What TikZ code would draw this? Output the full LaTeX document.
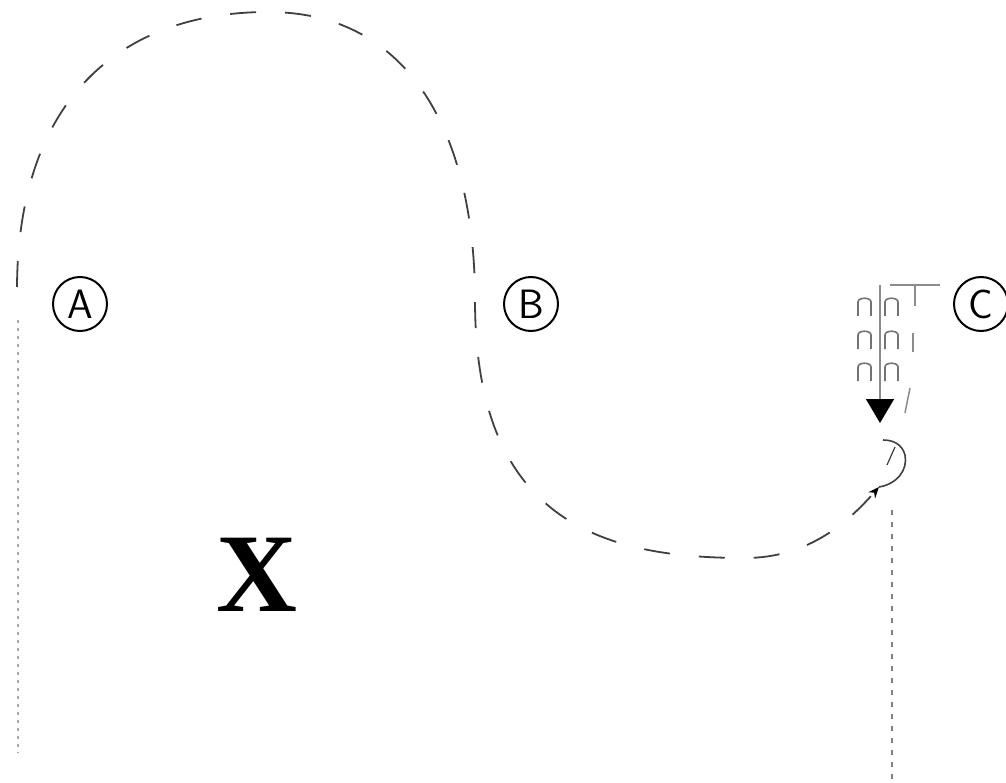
\documentclass[tikz,border=0pt]{standalone}
\usepackage{fontspec}
\usetikzlibrary{arrows.meta, positioning}
\newfontfamily\xfont{Liberation Serif}
\definecolor{routegray}{gray}{0.25}

\begin{document}
\begin{tikzpicture}[x=1pt, y=-1pt]
    \tikzstyle{letter}=[circle, draw=black, line width=2pt, minimum size=54pt, inner sep=0pt, font=\sffamily\fontsize{41}{41}\selectfont]
    \tikzstyle{route}=[draw=routegray, line width=1.8pt, dash pattern=on 26pt off 29pt, dash phase=52pt]
    \tikzstyle{curl}=[draw=routegray, line width=1.6pt]
    \tikzstyle{faint}=[draw=black!45, line width=1.5pt]
    \tikzstyle{arch}=[draw=black!55, line width=1.6pt]
    \tikzstyle{drop left}=[draw=black!35, line width=1.4pt, dash pattern=on 3pt off 5pt]
    \tikzstyle{drop right}=[draw=black!50, line width=1.8pt, dash pattern=on 5pt off 7pt]
    \useasboundingbox (0,0) rectangle (1006,783);

    % Draw the circled letters
    \node[letter] (A) at (80,304) {A};
    \node[letter] (B) at (531,304) {B};
    \node[letter] (C) at (981,304) {C};

    \node[font=\xfont\bfseries\fontsize{112}{112}\selectfont, inner sep=0pt] (X) at (257,575) {X};

    % Draw the dashed route
    \coordinate (start) at (17,290);
    \coordinate (top) at (268,12);
    \coordinate (turn) at (475,300);
    \coordinate (low) at (745,558);
    \coordinate (end) at (879,487);
    \draw[route, -{Stealth[length=11pt, width=9pt, black]}] (start) .. controls (17,100) and (120,12) .. (top)
        .. controls (420,12) and (475,150) .. (turn)
        .. controls (475,520) and (600,558) .. (low)
        .. controls (810,558) and (850,520) .. (end);

    % the small curl after the arrow
    \coordinate (curl end) at (883,440);
    \draw[curl] (end) .. controls (897,484) and (908,470) .. (905,455) .. controls (902,444) and (893,440) .. (curl end);
    \coordinate (tick a) at (895,447);
    \coordinate (tick b) at (887,465);
    \draw[curl, line width=1.2pt] (tick a) -- (tick b);

    % Draw the grey arrow next to C
    \coordinate (C-in) at (880,285);
    \coordinate (C-out) at (880,423);
    \draw[faint, -{Triangle[length=24pt, width=28pt, black]}] (C-in) -- (C-out);
    \coordinate (bar-l) at (890,285);
    \coordinate (bar-r) at (940,285);
    \draw[faint] (bar-l) -- (bar-r);
    \foreach \a/\b/\c/\d in {915/285/915/306, 913/333/913/352, 910/388/905/413}
        \draw[faint] (\a,\b) -- (\c,\d);

    \foreach \x in {858,885}
        \foreach \y in {297,330,362}
            \draw[arch] (\x,\y+19) -- (\x,\y+5) .. controls (\x,\y) and (\x+13,\y) .. (\x+13,\y+5) -- (\x+13,\y+19);

    % dotted drops
    \coordinate (left-top) at (18,320);
    \coordinate (left-bot) at (18,753);
    \draw[drop left] (left-top) -- (left-bot);
    \coordinate (right-top) at (892,510);
    \coordinate (right-bot) at (892,783);
    \draw[drop right] (right-top) -- (right-bot);
\end{tikzpicture}
\end{document}
